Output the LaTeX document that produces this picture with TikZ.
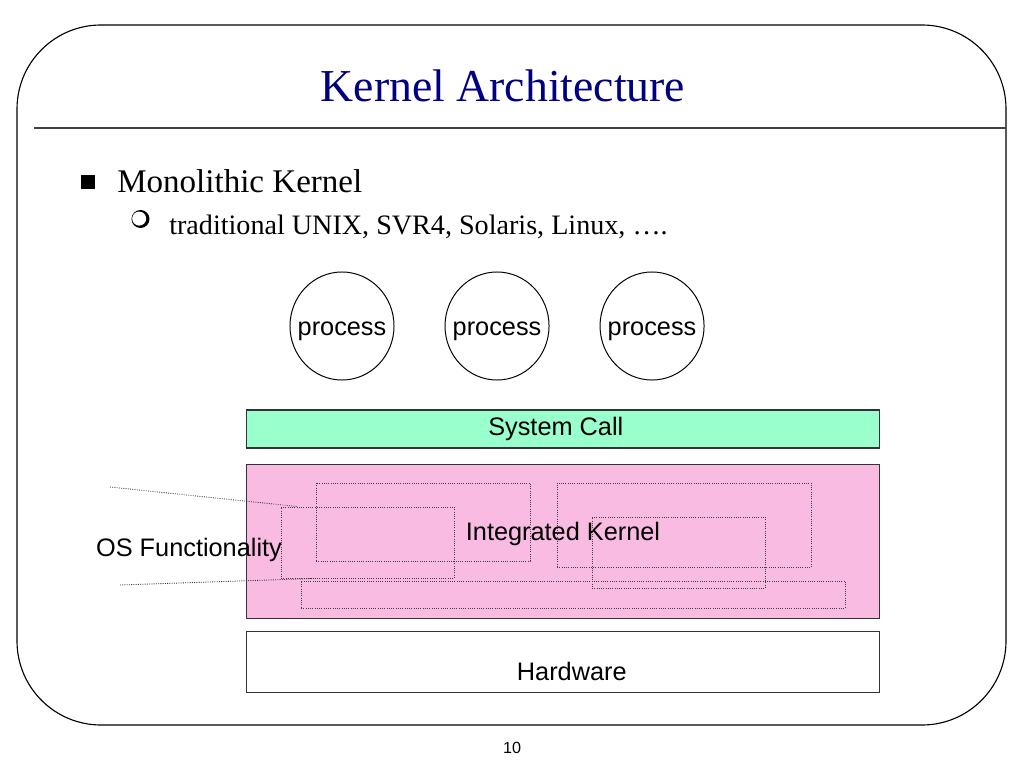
\documentclass[tikz,border=0pt]{standalone}
\usepackage{fontspec}
\setmainfont{Liberation Serif}
\setsansfont{Liberation Sans}
\usepackage{tikz}
\usetikzlibrary{calc, positioning, fit, shapes}
\definecolor{titleblue}{RGB}{0,0,128}
\definecolor{callgreen}{RGB}{153,255,204}
\definecolor{kernelpink}{RGB}{250,187,227}
\tikzset{
    node distance =1.25 cm and 1.25 cm,% gap between the process bubbles
    proc/.style ={ellipse, draw, line width=0.7pt, minimum width=2.6cm, minimum height=2.7cm, inner sep=0pt,
                  label={[lbl, yshift=-0.13cm]center:process}},
    layer/.style ={rectangle, draw=black!80, line width=0.8pt, minimum width=15.8cm, inner sep=0pt},
    fnbox/.style ={rectangle, draw=black!75, densely dotted, line width=0.6pt, inner sep=0pt},
    pointer/.style ={draw=black!80, densely dotted, line width=0.6pt},
    lbl/.style ={inner sep=0pt, font=\sffamily\fontsize{18}{20}\selectfont}
}
\begin{document}
\begin{tikzpicture}[x=0.025cm, y=-0.025cm]
    \useasboundingbox (0,0) rectangle (1024,768);
    % slide frame and title rule
    \draw[line width=0.8pt, rounded corners=2.1cm] (17,25) rectangle (1006,725);
    \draw[black!75, line width=1pt] (34,128) -- (1006,128);
    \node[inner sep=0pt, text=titleblue, font=\fontsize{32.5}{38}\selectfont] (title) at (503,86) {Kernel Architecture};
    % bullets
    \fill (81,175) rectangle (95,189);
    \node[anchor=base west, inner sep=0pt, font=\fontsize{23.5}{28}\selectfont] (mono) at (117,192) {Monolithic Kernel};
    \fill (140.5,219) circle[radius=0.225cm];
    \fill[white] (139.2,218.6) circle[radius=0.175cm];
    \node[anchor=base west, inner sep=0pt, font=\fontsize{20}{24}\selectfont] (unix) at (169,234) {traditional UNIX, SVR4, Solaris, Linux, ….};
    % processes
    \node[proc] (p1) at (342,326) {};
    \node[proc, right=of p1] (p2) {};
    \node[proc, right=of p2] (p3) {};
    % layers
    \node[layer, fill=callgreen, minimum height=0.95cm,
          label={[lbl, xshift=-0.18cm]center:System Call}] (syscall) at (563,429) {};
    \node[layer, fill=kernelpink, minimum height=3.85cm, below=0.375cm of syscall,
          label={[lbl, yshift=0.18cm]center:Integrated Kernel}] (kernel) {};
    \node[layer, minimum height=1.525cm, below=0.3cm of kernel,
          label={[lbl, xshift=0.22cm, yshift=-0.24cm]center:Hardware}] (hw) {};
    % functions inside the kernel
    \node[fnbox, fit={(316,483) (530,561)}] (fnA) {};
    \node[fnbox, fit={(281,507) (454,578)}] (fnB) {};
    \node[fnbox, fit={(301,581) (845,608)}] (fnC) {};
    \node[fnbox, fit={(557,483) (811,567)}] (fnD) {};
    \node[fnbox, fit={(592,517) (765,588)}] (fnE) {};
    % OS functionality callout
    \node[lbl] (osfn) at (189,550) {OS Functionality};
    \coordinate (osTop) at (110,487);
    \coordinate (osBot) at (120,585);
    \draw[pointer] (osTop) -- ($(fnB.north west)!0.1!(fnB.north east)$);
    \draw[pointer] (osBot) -- ($(fnB.south west)!0.2!(fnB.south east)$);
    % page number
    \node[inner sep=0pt, font=\sffamily\fontsize{11.5}{14}\selectfont] (pagenum) at (512,748) {10};
\end{tikzpicture}
\end{document}
